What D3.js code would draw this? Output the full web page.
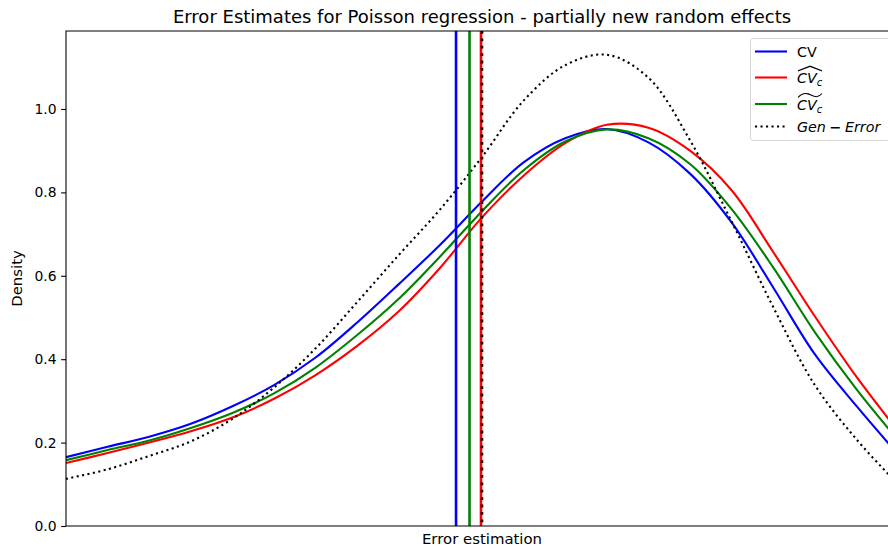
<!DOCTYPE html>
<head>
    <meta charset="utf-8">
    <script src="https://d3js.org/d3.v7.min.js"></script>
    <style>
        body { margin: 0; background: #fff; }
        svg { font-family: "DejaVu Sans", sans-serif; }
    </style>
</head>
<body>
    <svg id="chart" width="888" height="550"></svg>
    <script>
        // x positions along the (unlabelled) error-estimation axis
        var xs = [0, 0.05, 0.1, 0.15, 0.2, 0.25, 0.3, 0.35, 0.4, 0.45, 0.5,
                  0.55, 0.6, 0.65, 0.7, 0.75, 0.8, 0.85, 0.9, 0.95, 1.0];
        var cv      = [0.165, 0.190, 0.214, 0.245, 0.287, 0.338, 0.404, 0.488, 0.580, 0.675, 0.778,
                       0.872, 0.930, 0.952, 0.920, 0.845, 0.728, 0.572, 0.412, 0.288, 0.172];
        var cvHat   = [0.151, 0.175, 0.200, 0.227, 0.260, 0.305, 0.362, 0.432, 0.515, 0.620, 0.740,
                       0.840, 0.918, 0.962, 0.955, 0.900, 0.805, 0.657, 0.503, 0.358, 0.228];
        var cvTilde = [0.158, 0.182, 0.205, 0.235, 0.271, 0.318, 0.380, 0.458, 0.545, 0.647, 0.755,
                       0.853, 0.922, 0.951, 0.930, 0.868, 0.760, 0.620, 0.465, 0.328, 0.206];
        var genErr  = [0.113, 0.136, 0.168, 0.203, 0.257, 0.332, 0.426, 0.537, 0.650, 0.760, 0.885,
                       1.020, 1.105, 1.130, 1.075, 0.925, 0.730, 0.525, 0.338, 0.208, 0.100];
        // means drawn as vertical lines
        var vlines = [
            { key: "cv", x: 0.4688 },
            { key: "hat", x: 0.4988 },
            { key: "tilde", x: 0.4850 },
            { key: "gen", x: 0.5000 }
        ];
        var yTicks = [0, 0.2, 0.4, 0.6, 0.8, 1.0];

        var styles = {
            cv: { color: "#0000ff", dash: null },
            hat: { color: "#ff0000", dash: null },
            tilde: { color: "#008000", dash: null },
            gen: { color: "#000000", dash: "2.1,3.4" }
        };
        var series = [
            { key: "cv", values: cv },
            { key: "hat", values: cvHat },
            { key: "tilde", values: cvTilde },
            { key: "gen", values: genErr }
        ];

        var margin = { left: 66, top: 31, right: 898, bottom: 526 };
        var svg = d3.select("#chart");

        var x = d3.scaleLinear().domain([0, 1]).range([margin.left, margin.right]);
        var y = d3.scaleLinear().domain([0, 1.187]).range([margin.bottom, margin.top]);

        svg.append("defs").append("clipPath").attr("id", "plot")
            .append("rect")
            .attr("x", margin.left).attr("y", margin.top)
            .attr("width", margin.right - margin.left)
            .attr("height", margin.bottom - margin.top);

        var g = svg.append("g").attr("clip-path", "url(#plot)");

        var line = d3.line()
            .x(function (d, i) { return x(xs[i]); })
            .y(function (d) { return y(d); })
            .curve(d3.curveCatmullRom.alpha(0.5));

        series.forEach(function (s) {
            g.append("path")
                .attr("d", line(s.values))
                .attr("fill", "none")
                .attr("stroke", styles[s.key].color)
                .attr("stroke-width", 2.1)
                .attr("stroke-dasharray", styles[s.key].dash);
        });

        vlines.forEach(function (v) {
            g.append("line")
                .attr("x1", x(v.x)).attr("x2", x(v.x))
                .attr("y1", margin.top).attr("y2", margin.bottom)
                .attr("stroke", styles[v.key].color)
                .attr("stroke-width", 2.6)
                .attr("stroke-dasharray", v.key == "gen" ? "2.8,4.6" : null);
        });

        // spines
        svg.append("path")
            .attr("d", "M" + margin.left + "," + margin.bottom + "V" + margin.top + "H" + margin.right +
                "M" + margin.left + "," + margin.bottom + "H" + margin.right)
            .attr("fill", "none").attr("stroke", "#000").attr("stroke-width", 1.1);

        var yAxis = d3.axisLeft(y).tickValues(yTicks).tickFormat(d3.format(".1f"))
            .tickSize(4.9).tickPadding(4.5);
        svg.append("g").attr("transform", "translate(" + margin.left + ",0)")
            .call(yAxis)
            .call(function (a) {
                a.select(".domain").remove();
                a.selectAll("line").attr("stroke-width", 1.1);
                a.selectAll("text").attr("font-size", 13.9).attr("font-family", "DejaVu Sans").attr("fill", "#000");
            });

        svg.append("text")
            .attr("x", 482).attr("y", 23.3)
            .attr("text-anchor", "middle").attr("font-size", 18)
            .text("Error Estimates for Poisson regression - partially new random effects");

        svg.append("text")
            .attr("x", 482).attr("y", 543.5)
            .attr("text-anchor", "middle").attr("font-size", 14.9)
            .text("Error estimation");

        svg.append("text")
            .attr("transform", "translate(22," + ((margin.top + margin.bottom) / 2) + ") rotate(-90)")
            .attr("text-anchor", "middle").attr("font-size", 14.9)
            .text("Density");

        // legend
        var lg = svg.append("g");
        lg.append("rect")
            .attr("x", 750.5).attr("y", 38.5).attr("width", 140).attr("height", 102)
            .attr("rx", 3).attr("fill", "#fff").attr("fill-opacity", 0.8)
            .attr("stroke", "#d6d6d6").attr("stroke-width", 1);

        var rows = [
            { key: "cv", cy: 51.5 },
            { key: "hat", cy: 77.5 },
            { key: "tilde", cy: 104 },
            { key: "gen", cy: 126.5 }
        ];
        rows.forEach(function (r) {
            lg.append("line")
                .attr("x1", 755).attr("x2", 787).attr("y1", r.cy).attr("y2", r.cy)
                .attr("stroke", styles[r.key].color).attr("stroke-width", 2.1)
                .attr("stroke-dasharray", styles[r.key].dash);
        });

        lg.append("text").attr("x", 797).attr("y", 56.5).attr("font-size", 14.3).text("CV");

        function mathCV(cy, accent) {
            var base = cy + 5.5;
            var t = lg.append("text").attr("x", 797).attr("y", base)
                .attr("font-size", 14.3).attr("font-style", "italic");
            t.append("tspan").text("CV");
            t.append("tspan").attr("dy", 3).attr("font-size", 10).text("c");
            var top = base - 10.5;
            if (accent == "hat") {
                lg.append("path")
                    .attr("d", "M798," + (top - 1) + "L810," + (top - 5.5) + "L822," + (top - 1) +
                        "L822," + (top - 2.2) + "L810," + (top - 7) + "L798," + (top - 2.2) + "Z")
                    .attr("fill", "#000");
            } else {
                lg.append("path")
                    .attr("d", "M798," + (top - 1.5) + "C803," + (top - 7) + " 807," + (top - 6) + " 811," + (top - 4) +
                        "S818," + (top - 1) + " 822," + (top - 5.5))
                    .attr("fill", "none").attr("stroke", "#000").attr("stroke-width", 1.1);
            }
        }
        mathCV(77.5, "hat");
        mathCV(104, "tilde");

        var ge = lg.append("text").attr("x", 797).attr("y", 131.5).attr("font-size", 14.3);
        ge.append("tspan").attr("font-style", "italic").text("Gen");
        ge.append("tspan").attr("dx", 3.5).attr("font-weight", "bold").text("\u2212");
        ge.append("tspan").attr("dx", 3.5).attr("font-style", "italic").text("Error");
    </script>
</body>
